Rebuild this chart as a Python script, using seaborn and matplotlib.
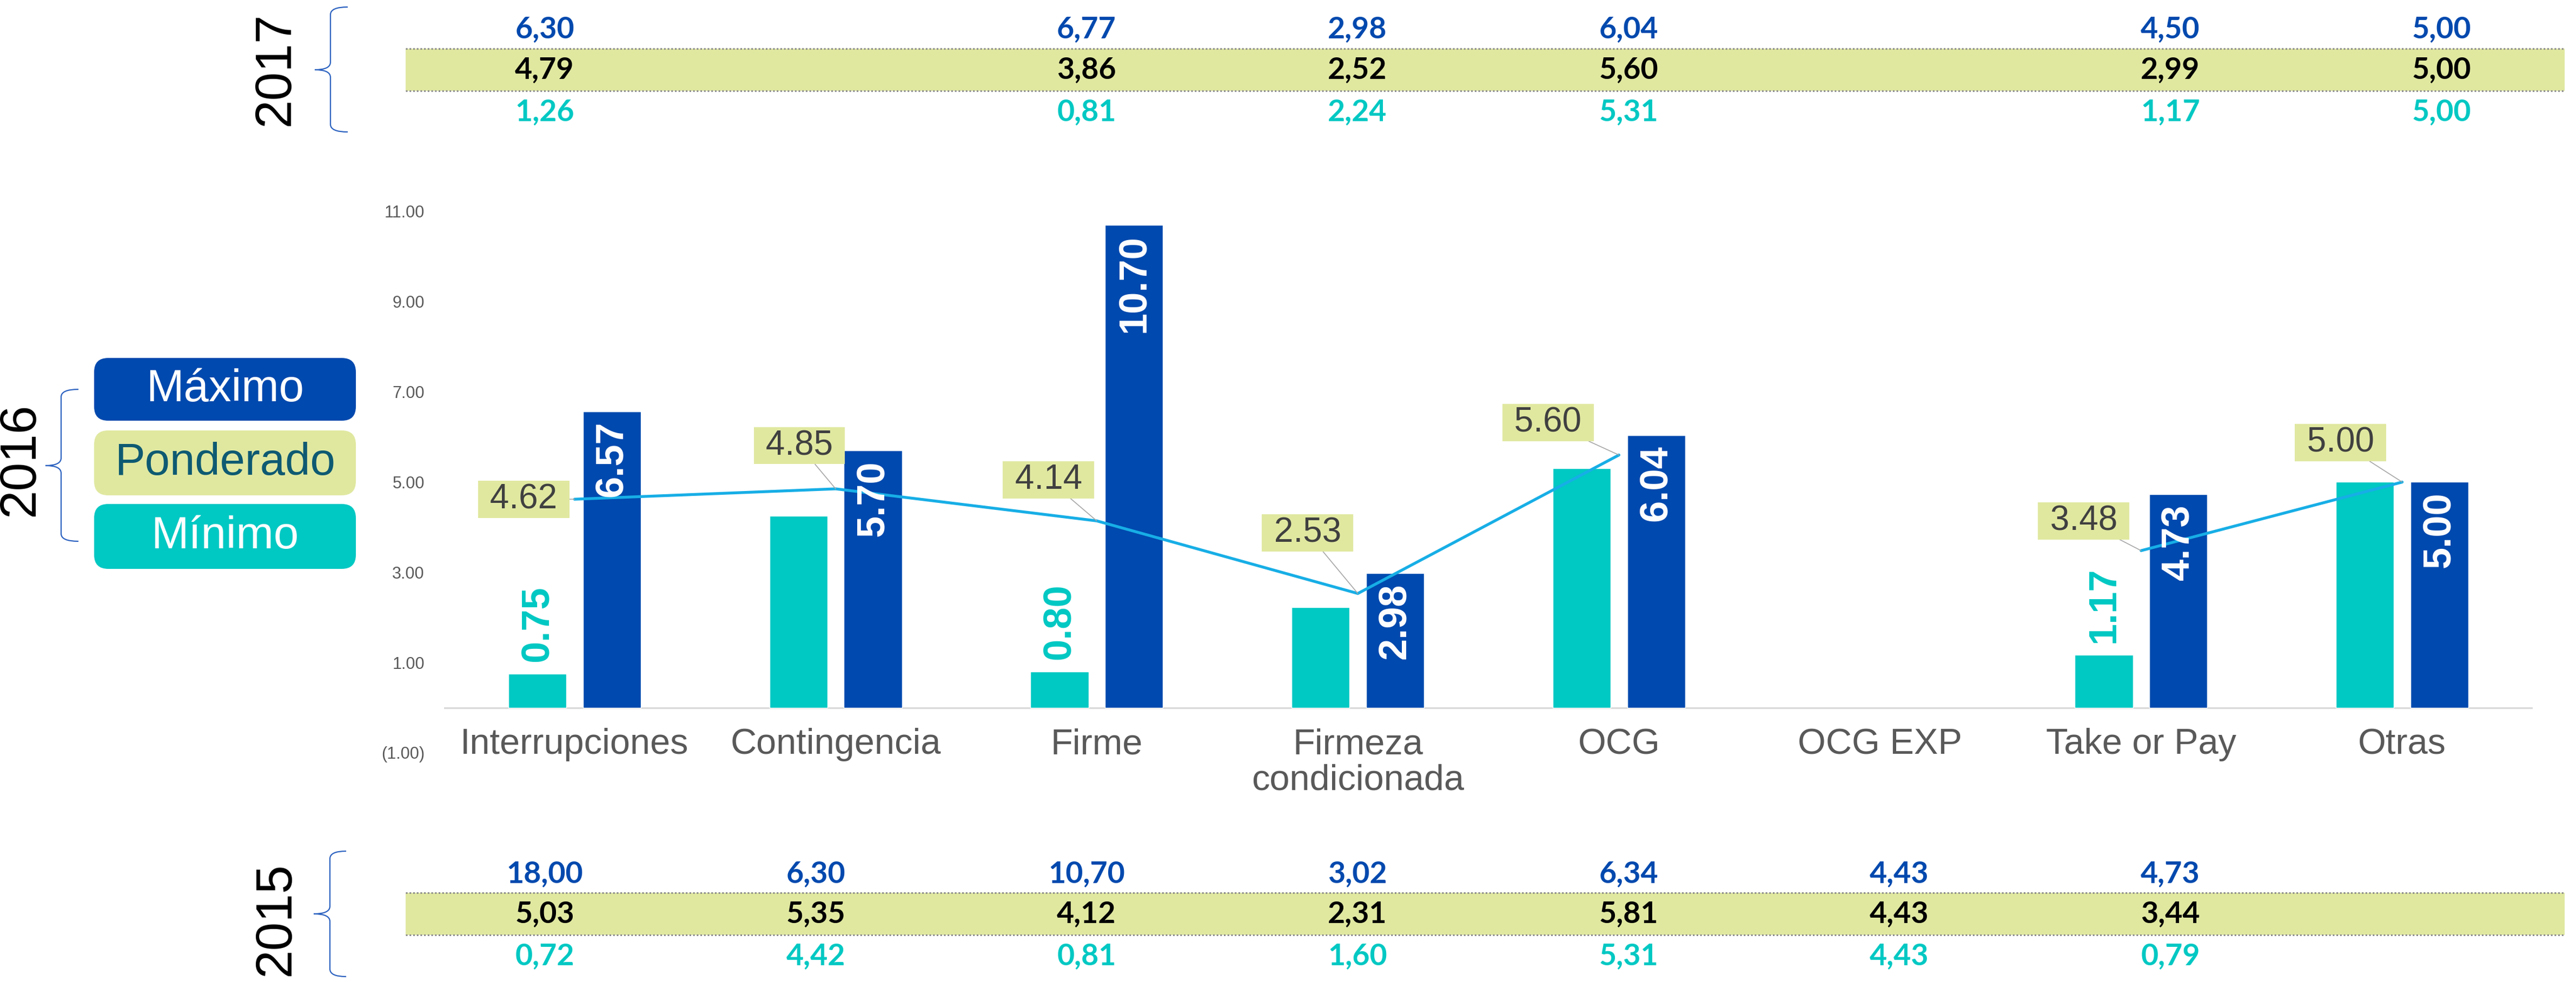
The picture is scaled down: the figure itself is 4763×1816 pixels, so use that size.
import numpy as np
import pandas as pd
import matplotlib
matplotlib.use("Agg")
import matplotlib.pyplot as plt
import seaborn as sns
from matplotlib.patches import FancyBboxPatch, Rectangle, PathPatch
from matplotlib.path import Path
from matplotlib.lines import Line2D
from matplotlib.transforms import IdentityTransform

# ---------------- data ----------------
categories = ["Interrupciones", "Contingencia", "Firme", "Firmeza\ncondicionada",
              "OCG", "OCG EXP", "Take or Pay", "Otras"]
min_2016 = [0.75, 4.25, 0.80, 2.22, 5.30, np.nan, 1.17, 5.00]
max_2016 = [6.57, 5.70, 10.70, 2.98, 6.04, np.nan, 4.73, 5.00]
pond_2016 = [4.62, 4.85, 4.14, 2.53, 5.60, np.nan, 3.48, 5.00]

max_2017 = ["6,30", "", "6,77", "2,98", "6,04", "", "4,50", "5,00"]
pond_2017 = ["4,79", "", "3,86", "2,52", "5,60", "", "2,99", "5,00"]
min_2017 = ["1,26", "", "0,81", "2,24", "5,31", "", "1,17", "5,00"]

max_2015 = ["18,00", "6,30", "10,70", "3,02", "6,34", "4,43", "4,73", ""]
pond_2015 = ["5,03", "5,35", "4,12", "2,31", "5,81", "4,43", "3,44", ""]
min_2015 = ["0,72", "4,42", "0,81", "1,60", "5,31", "4,43", "0,79", ""]

yticks = [-1, 1, 3, 5, 7, 9, 11]
ytick_labels = ["(1.00)", "1.00", "3.00", "5.00", "7.00", "9.00", "11.00"]
legend_labels = ["Máximo", "Ponderado", "Mínimo"]
year_labels = ["2017", "2016", "2015"]

# ---------------- styles ----------------
BLUE = "#0049AE"
TEAL = "#00C8C3"
LINE = "#17AEE6"
PALE = "#E0E8A0"
GREY = "#595959"
W, H, DPI = 4763, 1816, 100

sns.set_theme(style="white")
plt.rcParams["font.family"] = ["Liberation Sans", "DejaVu Sans"]

fig = plt.figure(figsize=(W / DPI, H / DPI), dpi=DPI)
fig.patch.set_facecolor("white")
ID = IdentityTransform()

ax_l, ax_r, ax_t, ax_b = 821, 4683, 391, 1392
ax = fig.add_axes([ax_l / W, 1 - ax_b / H, (ax_r - ax_l) / W, (ax_b - ax_t) / H])
ax.set_facecolor("none")

# bars
df = pd.DataFrame({
    "cat": categories * 2,
    "serie": ["Mínimo"] * len(categories) + ["Máximo"] * len(categories),
    "value": min_2016 + max_2016,
})
sns.barplot(data=df, x="cat", y="value", hue="serie", order=categories,
            hue_order=["Mínimo", "Máximo"], palette={"Mínimo": TEAL, "Máximo": BLUE},
            width=0.57, gap=0.22, errorbar=None, legend=False, saturation=1,
            ax=ax, zorder=2)

# weighted line (break at missing value)
dl = pd.DataFrame({"pos": np.arange(len(categories)), "pond": pond_2016})
dl["seg"] = dl["pond"].isna().cumsum()
sns.lineplot(data=dl.dropna(), x="pos", y="pond", units="seg", estimator=None,
             color=LINE, linewidth=3.8, ax=ax, legend=False, zorder=3)

# bar labels
min_cont, max_cont = ax.containers[0], ax.containers[1]
for p in max_cont:
    h = p.get_height()
    if np.isfinite(h) and h > 0:
        ax.annotate(f"{h:.2f}", (p.get_x() + p.get_width() / 2, h), xytext=(0, -18),
                    textcoords="offset pixels", rotation=90, ha="center", va="top",
                    color="white", fontsize=52, fontweight="bold", zorder=5)
for p in min_cont:
    h = p.get_height()
    if np.isfinite(h) and 0 < h < 2:
        ax.annotate(f"{h:.2f}", (p.get_x() + p.get_width() / 2, h), xytext=(0, 22),
                    textcoords="offset pixels", rotation=90, ha="center", va="bottom",
                    color=TEAL, fontsize=52, fontweight="bold", zorder=5)

# weighted value labels
label_offsets = [(-94, 0), (-67, 80), (-89, 76), (-93, 112), (-131, 60), (0, 0), (-106, 55), (-114, 73)]
for i, v in enumerate(pond_2016):
    if not np.isfinite(v):
        continue
    ax.annotate(f" {v:.2f} ", (i, v), xytext=label_offsets[i], textcoords="offset pixels",
                ha="center", va="center", fontsize=46, color="#404040", zorder=6,
                bbox=dict(boxstyle="square,pad=0.07", fc=PALE, ec="none"),
                arrowprops=dict(arrowstyle="-", color="#A6A6A6", lw=1.2,
                                shrinkA=0, shrinkB=0))

ax.axhline(0, color="#D9D9D9", lw=2.2, zorder=1)
ax.set_xlim(-0.5, len(categories) - 0.5)
ax.set_ylim(-1, 11)
ax.set_yticks(yticks, ytick_labels)
ax.set_xticks(np.arange(len(categories)), categories)
ax.tick_params(axis="y", length=0, pad=26, labelsize=22, labelcolor=GREY)
ax.tick_params(axis="x", length=0, pad=-33, labelsize=48, labelcolor=GREY)
for lbl in ax.get_xticklabels():
    lbl.set_linespacing(1.1)
ax.set_xlabel("")
ax.set_ylabel("")
ax.grid(False)
for s in ax.spines.values():
    s.set_visible(False)

# ---------------- legend boxes ----------------
leg_fc = [BLUE, PALE, TEAL]
leg_tc = ["white", "#0E5A72", "white"]
leg_y = [(662, 778), (796, 916), (932, 1052)]
for lab, fc, tc, (y0, y1) in zip(legend_labels, leg_fc, leg_tc, leg_y):
    box = FancyBboxPatch((174, H - y1), 658 - 174, y1 - y0,
                         boxstyle="round,pad=0,rounding_size=26",
                         transform=ID, fc=fc, ec="none")
    fig.add_artist(box)
    fig.text((174 + 658) / 2, H - (y0 + y1) / 2, lab, transform=ID, ha="center",
             va="center", fontsize=60, color=tc)

# ---------------- braces & year labels ----------------
def brace(xtip, xspine, xend, ytop, ybot, ymid, r=14):
    v = [(xend, ytop), (xspine, ytop), (xspine, ytop + r),
         (xspine, ymid - r), (xspine, ymid), (xtip, ymid),
         (xspine, ymid), (xspine, ymid + r),
         (xspine, ybot - r), (xspine, ybot), (xend, ybot)]
    c = [Path.MOVETO, Path.CURVE3, Path.CURVE3,
         Path.LINETO, Path.CURVE3, Path.CURVE3,
         Path.CURVE3, Path.CURVE3,
         Path.LINETO, Path.CURVE3, Path.CURVE3]
    v = [(x, H - y) for x, y in v]
    fig.add_artist(PathPatch(Path(v, c), transform=ID, fc="none", ec="#2C62C0", lw=1.6))

brace(582, 611, 643, 13, 244, 129)
brace(84, 113, 145, 720, 1001, 861)
brace(580, 610, 640, 1574, 1806, 1690)

for lab, (cx, cy) in zip(year_labels, [(510, 128), (38, 850), (511, 1700)]):
    fig.text(cx, H - cy, lab, transform=ID, rotation=90, ha="center", va="center",
             fontsize=68, color="black")

# ---------------- tables ----------------
col_x = [1007 + 501 * i for i in range(len(categories))]

def table(rows_y, band, maxs, ponds, mins):
    b0, b1 = band
    fig.add_artist(Rectangle((750, H - b1), 4742 - 750, b1 - b0, transform=ID,
                             fc=PALE, ec="none"))
    for yy in band:
        fig.add_artist(Line2D([750, 4742], [H - yy, H - yy], transform=ID,
                              color="#8C8C8C", lw=2.2, ls=(0, (1, 1.2))))
    for vals, y, col in zip([maxs, ponds, mins], rows_y, [BLUE, "black", TEAL]):
        for x, t in zip(col_x, vals):
            if t:
                fig.text(x, H - y, t, transform=ID, ha="center", va="center",
                         fontsize=40, fontweight="bold", color=col,
                         family=["Lato", "DejaVu Sans"])

table((54, 129, 207), (90, 168), max_2017, pond_2017, min_2017)
table((1616, 1690, 1768), (1651, 1729), max_2015, pond_2015, min_2015)

fig.savefig("out.png", dpi=DPI)
